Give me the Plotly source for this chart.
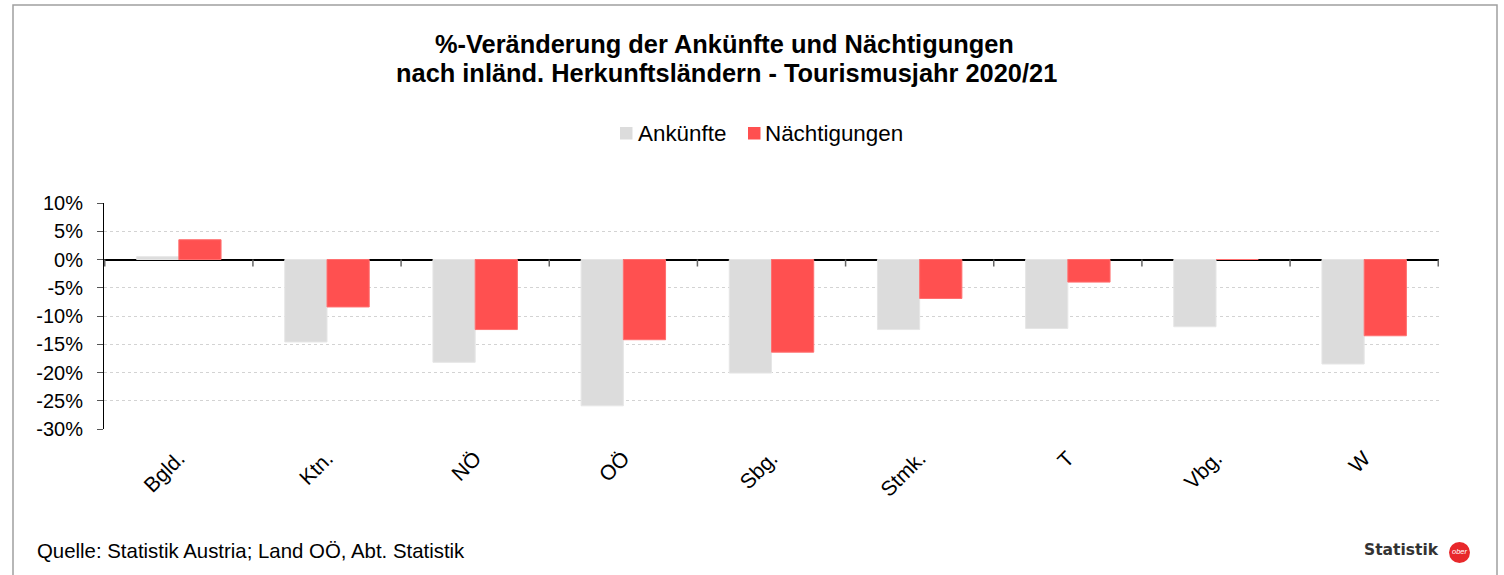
import plotly.graph_objects as go

categories = ["Bgld.", "Ktn.", "NÖ", "OÖ", "Sbg.", "Stmk.", "T", "Vbg.", "W"]
ankuenfte = [0.5, -14.6, -18.2, -25.9, -20.1, -12.4, -12.2, -11.9, -18.5]
naechtigungen = [3.5, -8.4, -12.4, -14.2, -16.4, -6.9, -4.0, 0.0, -13.5]
series_names = ["Ankünfte", "Nächtigungen"]
series_colors = ["#DCDCDC", "#FF5050"]
y_ticks = [10, 5, 0, -5, -10, -15, -20, -25, -30]

FONT = "Liberation Sans, Arial, sans-serif"

fig = go.Figure()
for name, vals, col, lc in zip(series_names, [ankuenfte, naechtigungen], series_colors,
                               ["#E6E6E6", "#FF7070"]):
    fig.add_trace(go.Bar(x=categories, y=vals, name=name, showlegend=False,
                         marker=dict(color=col, line=dict(color=lc, width=1))))

W, H = 1504, 575
L, R, T, B = 104, 65, 203, 146
pw, ph = W - L - R, H - T - B

def px(x):
    return (x - L) / pw

def py(y):
    return (H - B - y) / ph

shapes = []
# category boundary ticks on zero line
for i in range(len(categories) + 1):
    shapes.append(dict(type="line", xref="x", yref="y", x0=i - 0.5, x1=i - 0.5,
                       ysizemode="pixel", yanchor=0, y0=0, y1=-7,
                       line=dict(color="#666666", width=1.5)))
# outer frame
shapes.append(dict(type="rect", xref="paper", yref="paper",
                   x0=px(13), x1=px(1497), y0=py(590), y1=py(5),
                   line=dict(color="#A0A0A0", width=1.5), layer="below"))
# logo circle
shapes.append(dict(type="circle", xref="paper", yref="paper",
                   x0=px(1449), x1=px(1470), y0=py(563), y1=py(542),
                   fillcolor="#E8282B", line=dict(color="#E8282B", width=0)))

annotations = [
    dict(text="<b>%-Veränderung der Ankünfte und Nächtigungen</b>", xref="paper", yref="paper",
         x=px(724), y=py(44), xanchor="center", yanchor="middle", showarrow=False,
         font=dict(family=FONT, size=25.4, color="#000000")),
    dict(text="<b>nach inländ. Herkunftsländern - Tourismusjahr 2020/21</b>", xref="paper", yref="paper",
         x=px(726), y=py(73), xanchor="center", yanchor="middle", showarrow=False,
         font=dict(family=FONT, size=25.4, color="#000000")),
    dict(text="Quelle: Statistik Austria; Land OÖ, Abt. Statistik", xref="paper", yref="paper",
         x=px(35), y=py(551), xanchor="left", yanchor="middle", showarrow=False,
         font=dict(family=FONT, size=20.4, color="#000000")),
    dict(text="<b>Statistik</b>", xref="paper", yref="paper",
         x=px(1441), y=py(550), xanchor="right", yanchor="middle", showarrow=False,
         font=dict(family="DejaVu Sans, sans-serif", size=15.5, color="#333333")),
    dict(text="<i>ober</i>", xref="paper", yref="paper",
         x=px(1459.5), y=py(551), xanchor="center", yanchor="middle", showarrow=False,
         font=dict(family=FONT, size=7.5, color="#FFFFFF")),
]

# legend (swatch + label) built from series names/colors
legend_swatch_x = [620, 748]
legend_text_x = [638, 765]
for name, col, sx, tx in zip(series_names, series_colors, legend_swatch_x, legend_text_x):
    shapes.append(dict(type="rect", xref="paper", yref="paper",
                       x0=px(sx), x1=px(sx + 12.5), y0=py(139.5), y1=py(127),
                       fillcolor=col, line=dict(width=0)))
    annotations.append(dict(text=name, xref="paper", yref="paper",
                            x=px(tx - 2), y=py(133), xanchor="left", yanchor="middle",
                            showarrow=False,
                            font=dict(family=FONT, size=22.4, color="#000000")))

fig.update_layout(
    width=W, height=H,
    margin=dict(l=L, r=R, t=T, b=B, autoexpand=False),
    paper_bgcolor="white", plot_bgcolor="white",
    barmode="group", bargap=0.43, bargroupgap=0,
    font=dict(family=FONT, size=20, color="#000000"),
    showlegend=False,
    xaxis=dict(showgrid=False, ticks="", tickangle=-45, showline=False,
               tickfont=dict(family=FONT, size=21), zeroline=False,
               ticklabelstandoff=12),
    yaxis=dict(range=[-30, 10], tickvals=y_ticks, ticktext=[f"{v}%" for v in y_ticks],
               showgrid=True, gridcolor="#D3D3D3", griddash="dot", gridwidth=1,
               zeroline=True, zerolinecolor="#000000", zerolinewidth=1.5,
               showline=True, linecolor="#000000", linewidth=1,
               ticks="outside", ticklen=6, tickcolor="#555555",
               tickfont=dict(family=FONT, size=20), ticklabelstandoff=10),
    shapes=shapes,
    annotations=annotations,
)

fig.write_html("out.html", config={"displayModeBar": False},
               post_script="document.body.style.margin='0';document.body.style.overflow='hidden';")
